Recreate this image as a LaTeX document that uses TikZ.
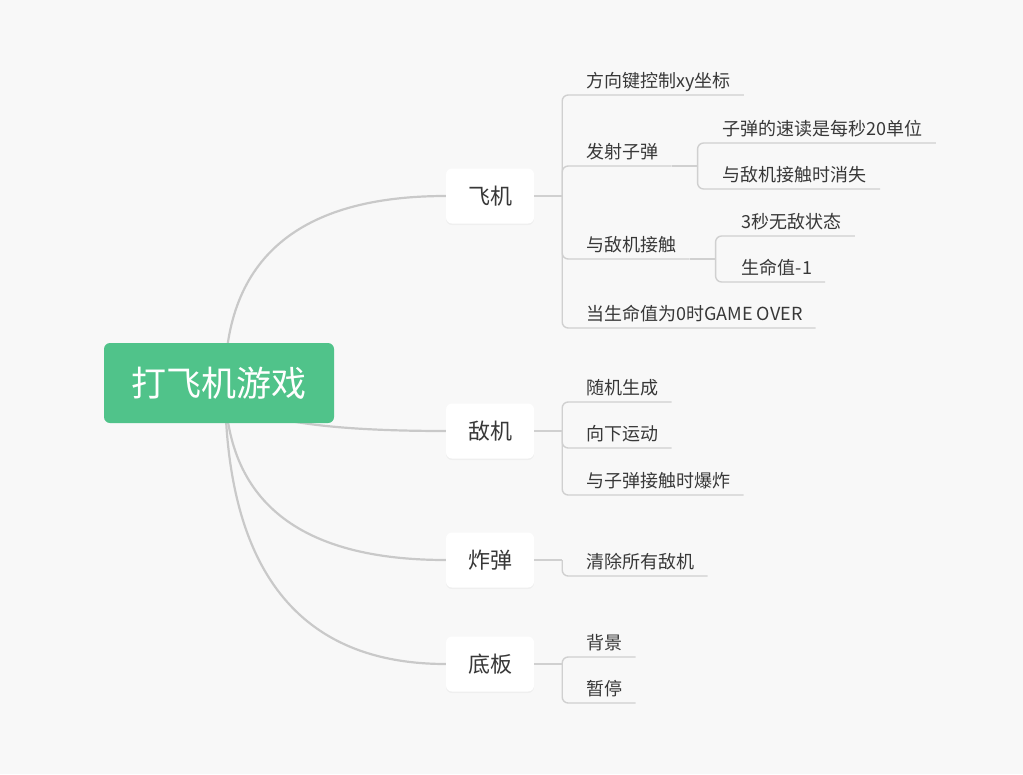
\documentclass[tikz,border=0pt]{standalone}
\usepackage{fontspec}
\setmainfont{Noto Sans CJK SC}
\usetikzlibrary{calc,shadows,backgrounds}
\definecolor{bg}{HTML}{F8F8F8}
\definecolor{rootgreen}{HTML}{50C38A}
\definecolor{txt}{HTML}{383838}
\definecolor{curvec}{HTML}{C9C9C9}
\definecolor{linec}{HTML}{D0D0D0}
\begin{document}
\begin{tikzpicture}[x=1pt,y=-1pt,
 rootbox/.style={fill=rootgreen, rounded corners=6pt, minimum width=230pt, minimum height=80pt, text=white, font=\fontsize{35}{38}\selectfont, inner sep=0},
 mainbox/.style={fill=white, rounded corners=6pt, minimum width=88pt, minimum height=55pt, text=txt, font=\fontsize{22}{24}\selectfont, inner sep=0, drop shadow={opacity=0.07, shadow xshift=0pt, shadow yshift=-1.5pt}},
 leaf/.style={anchor=south west, inner sep=0, text height=16pt, text depth=7pt, text=txt, font=\fontsize{18}{20}\selectfont},
 curve/.style={draw=curvec, line width=2.2pt},
 branch/.style={draw=linec, line width=1.4pt, rounded corners=6pt},
]
\useasboundingbox (0,0) rectangle (1023,774);

\node[rootbox] (root) at (219,383) {打飞机游戏};
\node[mainbox] (m1) at (490,196) {飞机};
\node[mainbox] (m2) at (490,431) {敌机};
\node[mainbox] (m3) at (490,560) {炸弹};
\node[mainbox] (m4) at (490,664) {底板};
\coordinate (rs) at ($(root.center)+(6,0)$);

% 飞机
\draw[branch] (m1.east) -- ++(28,0) coordinate (j1);
\node[leaf] (a1) at ($(j1)+(0,-101)$) {\kern24pt 方向键控制xy坐标\kern13pt};
\node[leaf] (a2) at ($(j1)+(0,-30)$) {\kern24pt 发射子弹\kern13pt};
\node[leaf] (a3) at ($(j1)+(0,63)$) {\kern24pt 与敌机接触\kern13pt};
\node[leaf] (a4) at ($(j1)+(0,132)$) {\kern24pt 当生命值为0时GAME OVER\kern13pt};
\foreach \n in {a1,a2,a3,a4} \draw[branch] (j1) |- (\n.south east);

\draw[branch] (a2.south east) -- ++(26,0) coordinate (j2);
\node[leaf] (a21) at ($(j2)+(0,-23)$) {\kern25pt 子弹的速读是每秒20单位\kern13pt};
\node[leaf] (a22) at ($(j2)+(0,23)$) {\kern25pt 与敌机接触时消失\kern13pt};
\foreach \n in {a21,a22} \draw[branch] (j2) |- (\n.south east);

\draw[branch] (a3.south east) -- ++(26,0) coordinate (j3);
\node[leaf] (a31) at ($(j3)+(0,-23)$) {\kern26pt 3秒无敌状态\kern13pt};
\node[leaf] (a32) at ($(j3)+(0,23)$) {\kern26pt 生命值-1\kern13pt};
\foreach \n in {a31,a32} \draw[branch] (j3) |- (\n.south east);

% 敌机
\draw[branch] (m2.east) -- ++(28,0) coordinate (k1);
\node[leaf] (b1) at ($(k1)+(0,-29)$) {\kern24pt 随机生成\kern13pt};
\node[leaf] (b2) at ($(k1)+(0,17)$) {\kern24pt 向下运动\kern13pt};
\node[leaf] (b3) at ($(k1)+(0,64)$) {\kern24pt 与子弹接触时爆炸\kern13pt};
\foreach \n in {b1,b2,b3} \draw[branch] (k1) |- (\n.south east);

% 炸弹
\draw[branch] (m3.east) -- ++(28,0) coordinate (l1);
\node[leaf] (c1) at ($(l1)+(0,16)$) {\kern24pt 清除所有敌机\kern13pt};
\draw[branch] (l1) |- (c1.south east);

% 底板
\draw[branch] (m4.east) -- ++(28,0) coordinate (n1);
\node[leaf] (d1) at ($(n1)+(0,-7)$) {\kern24pt 背景\kern13pt};
\node[leaf] (d2) at ($(n1)+(0,39)$) {\kern24pt 暂停\kern13pt};
\foreach \n in {d1,d2} \draw[branch] (n1) |- (\n.south east);

\begin{scope}[on background layer]
\fill[bg] (0,0) rectangle (1023,774);
\draw[curve] (rs) .. controls +(0,-124.7) and +(-147,0) .. (m1.west);
\draw[curve] (rs) .. controls +(0,32) and +(-147,0) .. (m2.west);
\draw[curve] (rs) .. controls +(0,118) and +(-147,0) .. (m3.west);
\draw[curve] (rs) .. controls +(0,187.3) and +(-147,0) .. (m4.west);
\end{scope}
\end{tikzpicture}
\end{document}
